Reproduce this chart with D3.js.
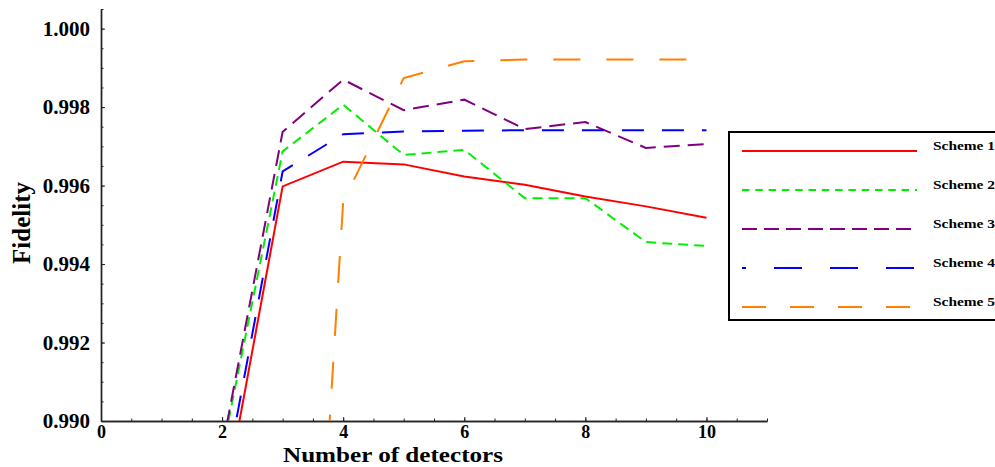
<!DOCTYPE html>
<html>
<head>
<meta charset="utf-8">
<script src="https://cdnjs.cloudflare.com/ajax/libs/d3/7.8.5/d3.min.js"></script>
<style>
    body { margin: 0; background: #fff; }
    svg { display: block; }
</style>
</head>
<body>
<div id="graphContainer"></div>
<script>
"use strict";
// values
const detectors = [2, 3, 4, 5, 6, 7, 8, 9, 10];
const scheme1 = [0.9876, 0.99598, 0.99661, 0.99654, 0.99623, 0.99602, 0.99572, 0.99547, 0.99518];
const scheme2 = [0.9892, 0.99687, 0.99806, 0.99678, 0.99691, 0.99568, 0.99568, 0.99456, 0.99446];
const scheme3 = [0.98929, 0.99737, 0.99870, 0.99792, 0.99819, 0.99744, 0.99762, 0.99696, 0.99706];
const scheme4 = [0.98809, 0.99636, 0.99731, 0.99738, 0.99740, 0.99741, 0.99741, 0.99741, 0.99741];
const scheme5 = [null, 0.9706, 0.99559, 0.99874, 0.99917, 0.99921, 0.99921, 0.99921, 0.99921];
const schemeNames = ["Scheme 1", "Scheme 2", "Scheme 3", "Scheme 4", "Scheme 5"];
const xTicks = [0, 2, 4, 6, 8, 10];
const yTicks = [0.990, 0.992, 0.994, 0.996, 0.998, 1.000];

(function () {
    let svgContainer = ""
    const measurements = {
        width: 995,
        height: 467,
        left: 101,
        right: 767,
        top: 9,
        bottom: 421
    }
    const font = "'Liberation Serif', 'Times New Roman', serif"

    // colour and dash per scheme: plot dash, legend dash, legend offset
    const styles = [
        { color: "#ff0000", dash: null, legendDash: null, legendOffset: 0 },
        { color: "#00ee00", dash: "10,6", legendDash: "7.5,5.8", legendOffset: 0 },
        { color: "#800080", dash: "16,8", legendDash: "15,7", legendOffset: 0 },
        { color: "#0000ff", dash: "22,18", legendDash: "28,28", legendOffset: 24 },
        { color: "#ff7f00", dash: "27,26", legendDash: "24,24", legendOffset: 0 }
    ]

    svgContainer = d3.select('#graphContainer').append("svg")
        .attr('width', measurements.width)
        .attr('height', measurements.height)

    makeLinePlot()

    function makeLinePlot() {
        let scaleX = d3.scaleLinear()
            .domain([0, 11])
            .range([measurements.left, measurements.right])
        let scaleY = d3.scaleLinear()
            .domain([0.990, 1.0005])
            .range([measurements.bottom, measurements.top])

        drawAxes(scaleX, scaleY)
        plotData(scaleX, scaleY)
        drawLegend()
    }

    function drawAxes(scaleX, scaleY) {
        // minor ticks first, no labels
        svgContainer.append('g')
            .attr('transform', `translate(0,${measurements.bottom})`)
            .call(d3.axisBottom(scaleX).tickValues(d3.range(0, 11.01, 0.5))
                .tickSizeInner(-2.5).tickSizeOuter(0).tickFormat(""))
            .call(styleAxis, 18)

        svgContainer.append('g')
            .attr('transform', `translate(${measurements.left},0)`)
            .call(d3.axisLeft(scaleY).tickValues(d3.range(0.990, 1.00051, 0.0005))
                .tickSizeInner(-2.5).tickSizeOuter(0).tickFormat(""))
            .call(styleAxis, 21)

        // major ticks with labels
        svgContainer.append('g')
            .attr('transform', `translate(0,${measurements.bottom})`)
            .call(d3.axisBottom(scaleX).tickValues(xTicks)
                .tickSizeInner(-4).tickSizeOuter(0).tickPadding(4).tickFormat(d3.format("d")))
            .call(styleAxis, 18)

        svgContainer.append('g')
            .attr('transform', `translate(${measurements.left},0)`)
            .call(d3.axisLeft(scaleY).tickValues(yTicks)
                .tickSizeInner(-4).tickSizeOuter(0).tickPadding(11).tickFormat(d3.format(".3f")))
            .call(styleAxis, 21)

        // axis titles
        svgContainer.append('text')
            .attr('x', 393)
            .attr('y', 461.5)
            .attr('text-anchor', 'middle')
            .attr('font-family', font)
            .attr('font-weight', 'bold')
            .attr('font-size', 22)
            .attr('textLength', 220)
            .attr('lengthAdjust', 'spacingAndGlyphs')
            .text("Number of detectors")

        svgContainer.append('text')
            .attr('transform', 'translate(30,223) rotate(-90)')
            .attr('text-anchor', 'middle')
            .attr('font-family', font)
            .attr('font-weight', 'bold')
            .attr('font-size', 25)
            .text("Fidelity")
    }

    function styleAxis(g, size) {
        g.attr('font-family', font)
            .attr('font-weight', 'bold')
            .attr('font-size', size)
        g.select('.domain').attr('stroke', '#222').attr('stroke-width', 1.4)
        g.selectAll('.tick line').attr('stroke', '#222').attr('stroke-width', 1)
        g.selectAll('.tick text').attr('fill', '#000')
    }

    function plotData(scaleX, scaleY) {
        svgContainer.append('clipPath')
            .attr('id', 'plotClip')
            .append('rect')
            .attr('x', measurements.left)
            .attr('y', measurements.top)
            .attr('width', measurements.right - measurements.left)
            .attr('height', measurements.bottom - measurements.top)

        const series = [scheme1, scheme2, scheme3, scheme4, scheme5]

        const line = d3.line()
            .defined(d => d[1] !== null)
            .x(d => scaleX(d[0]))
            .y(d => scaleY(d[1]))

        const plot = svgContainer.append('g').attr('clip-path', 'url(#plotClip)')

        series.forEach((values, i) => {
            const points = detectors.map((x, j) => [x, values[j]])
            plot.append('path')
                .datum(points)
                .attr('d', line)
                .attr('fill', 'none')
                .attr('stroke', styles[i].color)
                .attr('stroke-width', 2)
                .attr('stroke-dasharray', styles[i].dash)
        })
    }

    function drawLegend() {
        const legend = svgContainer.append('g')
            .attr('transform', 'translate(729,132)')

        legend.append('rect')
            .attr('x', 0)
            .attr('y', 0)
            .attr('width', 300)
            .attr('height', 188)
            .attr('fill', '#fff')
            .attr('stroke', '#000')
            .attr('stroke-width', 2)

        schemeNames.forEach((name, i) => {
            const y = 19 + i * 39
            legend.append('line')
                .attr('x1', 13)
                .attr('x2', 188)
                .attr('y1', y)
                .attr('y2', y)
                .attr('stroke', styles[i].color)
                .attr('stroke-width', 2)
                .attr('stroke-dasharray', styles[i].legendDash)
                .attr('stroke-dashoffset', styles[i].legendOffset)

            legend.append('text')
                .attr('x', 204)
                .attr('y', y - 1)
                .attr('font-family', font)
                .attr('font-weight', 'bold')
                .attr('font-size', 13)
                .attr('textLength', 62)
                .attr('lengthAdjust', 'spacingAndGlyphs')
                .text(name)
        })
    }
})()
</script>
</body>
</html>
